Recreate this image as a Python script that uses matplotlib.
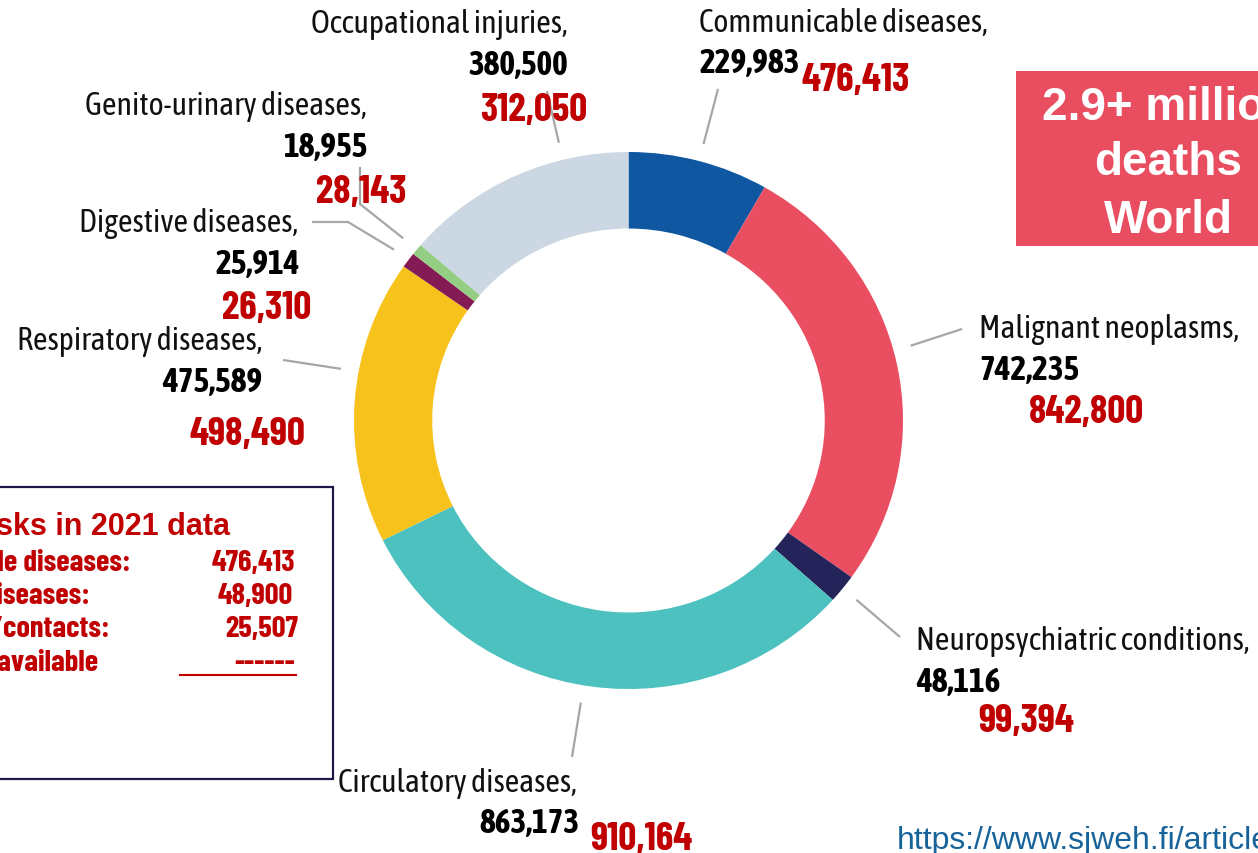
import numpy as np
import matplotlib
matplotlib.use('Agg')
import matplotlib.pyplot as plt
from matplotlib.patches import Rectangle

# Data: deaths by cause (earlier estimate in black, 2021 data in red)
categories = ['Communicable diseases', 'Malignant neoplasms', 'Neuropsychiatric conditions',
              'Circulatory diseases', 'Respiratory diseases', 'Digestive diseases',
              'Genito-urinary diseases', 'Occupational injuries']
deaths_prev = [229983, 742235, 48116, 863173, 475589, 25914, 18955, 380500]
deaths_2021 = [476413, 842800, 99394, 910164, 498490, 26310, 28143, 312050]
slice_colors = ['#0F57A0', '#E94E61', '#24245B', '#4CC1BF', '#F8C21C', '#841B55', '#93CE83', '#CBD7E3']

box_labels = ['Communicable diseases:', 'Occupational skin diseases:', 'Injuries/contacts:', 'Data not available']
box_values = ['476,413', '48,900', '25,507', '------']

COND = ['Asap Condensed', 'DejaVu Sans']
NARROW = ['Barlow Condensed', 'Liberation Sans', 'DejaVu Sans']
ARIAL = ['Liberation Sans', 'DejaVu Sans']
RED = '#C00000'
LEADER = '#A6A6A6'

W, H = 1258, 854
fig = plt.figure(figsize=(W / 100, H / 100), dpi=100)

# donut in its own axes (pixel box of the ring, slightly wider than tall)
cx, cy, rx, ry = 628.5, 421.5, 274.5, 268.5
pax = fig.add_axes([(cx - rx) / W, (H - cy - ry) / H, 2 * rx / W, 2 * ry / H])
pax.pie(deaths_prev, colors=slice_colors, startangle=90, counterclock=False,
        radius=1, wedgeprops=dict(width=0.285, linewidth=0))
pax.set_xlim(-1, 1)
pax.set_ylim(-1, 1)
pax.set_aspect('auto')
pax.axis('off')

# overlay axes in pixel coordinates for labels
ax = fig.add_axes([0, 0, 1, 1])
ax.set_xlim(0, W)
ax.set_ylim(H, 0)
ax.set_facecolor('none')
ax.axis('off')

# label layout: name / black value / red value positions, leader end points, anchor frac in wedge
layout = {
    'Communicable diseases': dict(name=(699, 32, 'left'), val=(699, 73, 'left'), red=(801, 91),
                                  path=[(718, 90)], frac=0.5),
    'Malignant neoplasms': dict(name=(979, 338, 'left'), val=(979, 380, 'left'), red=(1029, 423),
                                path=[(962, 330)], frac=0.47),
    'Neuropsychiatric conditions': dict(name=(916, 650, 'left'), val=(916, 692, 'left'), red=(978, 732),
                                        path=[(900, 638)], frac=0.5),
    'Circulatory diseases': dict(name=(338, 792, 'left'), val=(579, 833, 'right'), red=(590, 850),
                                 path=[(572, 758)], frac=0.515),
    'Respiratory diseases': dict(name=(262, 350, 'right'), val=(262, 392, 'right'), red=(190, 445),
                                 path=[(283, 361)], frac=0.6),
    'Digestive diseases': dict(name=(298, 232, 'right'), val=(300, 274, 'right'), red=(222, 319),
                               path=[(348, 223), (312, 223)], frac=0.5),
    'Genito-urinary diseases': dict(name=(367, 115, 'right'), val=(367, 157, 'right'), red=(316, 203),
                                    path=[(360, 205), (360, 168)], frac=0.5),
    'Occupational injuries': dict(name=(568, 33, 'right'), val=(568, 75, 'right'), red=(480, 121),
                                  path=[(547, 92)], frac=0.72),
}

total = float(sum(deaths_prev))
start = 0.0
for cat, v_prev, v_new in zip(categories, deaths_prev, deaths_2021):
    L = layout[cat]
    ang = np.deg2rad(360 * (start + L['frac'] * v_prev) / total)
    start += v_prev
    k = 1.065
    x0 = cx + rx * k * np.sin(ang)
    y0 = cy - ry * k * np.cos(ang)
    xs = [x0] + [p[0] for p in L['path']]
    ys = [y0] + [p[1] for p in L['path']]
    ax.plot(xs, ys, color=LEADER, lw=1.6, solid_capstyle='butt', zorder=1)

    nx, ny, nha = L['name']
    ax.text(nx, ny, cat + ',', ha=nha, va='baseline', fontsize=23, family=COND, color='#111111', zorder=3)
    vx, vy, vha = L['val']
    ax.text(vx, vy, f'{v_prev:,}', ha=vha, va='baseline', fontsize=24, family=COND,
            fontweight='bold', color='#000000', zorder=3)
    rx_, ry_ = L['red']
    ax.text(rx_, ry_, f'{v_new:,}', ha='left', va='baseline', fontsize=28.5, family=NARROW,
            fontweight='bold', color=RED, zorder=3)

# left summary box
ax.add_patch(Rectangle((-10, 488), 343, 292, facecolor='white', edgecolor='#1C1848', lw=1.6, zorder=2))
ax.text(230, 535, 'Occupational risks in 2021 data', ha='right', va='baseline', fontsize=22,
        family=ARIAL, fontweight='bold', color=RED, zorder=3)
row_base = [571, 604, 637, 671]
row_label_right = [130, 90, 110, 98]
row_value_right = [295, 293, 298, 295]
for lab, val, yb, xl, xv in zip(box_labels, box_values, row_base, row_label_right, row_value_right):
    ax.text(xl, yb, lab, ha='right', va='baseline', fontsize=22, family=NARROW,
            fontweight='bold', color=RED, zorder=3)
    ax.text(xv, yb, val, ha='right', va='baseline', fontsize=22, family=NARROW,
            fontweight='bold', color=RED, zorder=3)
ax.plot([180, 296], [676, 676], color=RED, lw=1.5, zorder=3)

# top-right headline box
ax.add_patch(Rectangle((1016, 72), 260, 175, facecolor='#E84D60', edgecolor='none', zorder=2))
for line, yb in zip(['2.9+ million', 'deaths', 'World'], [120, 175, 233]):
    ax.text(1168, yb, line, ha='center', va='baseline', fontsize=33, family=ARIAL,
            fontweight='bold', color='white', zorder=3)

# source url
ax.text(897, 849, 'https://www.sjweh.fi/article/4050', ha='left', va='baseline', fontsize=23,
        family=ARIAL, color='#17639A', zorder=3)

fig.savefig('out.png', dpi=100)
